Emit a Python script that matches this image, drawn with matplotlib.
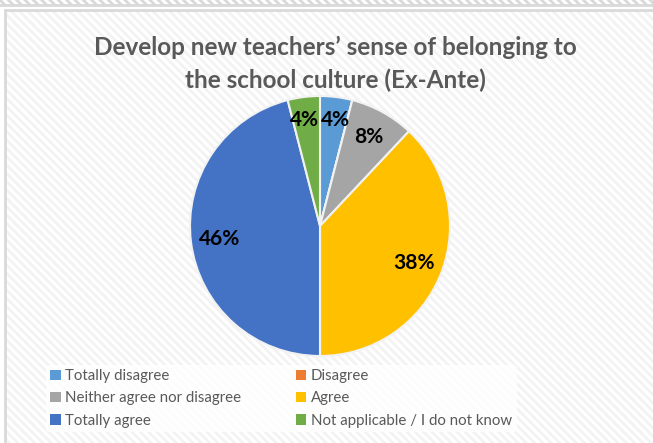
import matplotlib
matplotlib.use("Agg")
import matplotlib.pyplot as plt
from matplotlib.patches import Rectangle, Patch

categories = ["Totally disagree", "Disagree", "Neither agree nor disagree",
              "Agree", "Totally agree", "Not applicable / I do not know"]
values = [4, 0, 8, 38, 46, 4]
colors = ["#5B9BD5", "#ED7D31", "#A5A5A5", "#FFC000", "#4472C4", "#70AD47"]
title = "Develop new teachers\u2019 sense of belonging to\nthe school culture (Ex-Ante)"

W, H = 653, 443
plt.rcParams['hatch.linewidth'] = 2.0
fig = plt.figure(figsize=(W / 100, H / 100), dpi=100)
fig.patch.set_facecolor("white")

# hatched chart background + frame
bg = Rectangle((5 / W, 0), 1, 1 - 10 / H, transform=fig.transFigure,
               facecolor="white", edgecolor="#f3f3f3", hatch="\\\\\\\\", lw=0, zorder=-3)
fig.patches.append(bg)
frame = Rectangle((5 / W, -0.01), 1, 1 - 10 / H + 0.01, transform=fig.transFigure,
                  facecolor="none", edgecolor="#d9d9d9", lw=2, zorder=-2)
fig.patches.append(frame)
top = Rectangle((-0.01, 1 - 5 / H), 1.02, 0.1, transform=fig.transFigure,
                facecolor="white", edgecolor="#d9d9d9", hatch="\\\\\\\\", lw=2, zorder=-2)
fig.patches.append(top)

fig.text(335 / W, 1 - 64 / H, title, ha="center", va="center", fontsize=17.5,
         fontweight="bold", color="#595959", family="Lato", linespacing=1.45)

# pie
cx, cy, r = 320, 226, 130
ax = fig.add_axes([(cx - r) / W, 1 - (cy + r) / H, 2 * r / W, 2 * r / H])
wedges, texts, autotexts = ax.pie(
    values, colors=colors, startangle=90, counterclock=False,
    autopct=lambda p: f"{p:.0f}%" if p > 0.5 else "", pctdistance=0.78,
    wedgeprops=dict(edgecolor="#f2f2f2", linewidth=1.5),
    textprops=dict(fontsize=15, fontweight="bold", color="black", family="Lato"))
# the two small 4% labels sit side by side near the top
for v, t in zip(values, autotexts):
    if 0 < v < 5:
        x, y = t.get_position()
        t.set_ha("left" if x > 0 else "right")
        t.set_position((0.01 if x > 0 else -0.01, y * 1.05))
ax.set_xlim(-1, 1)
ax.set_ylim(-1, 1)
ax.set_aspect("equal")

# legend, row-wise order
order = [0, 2, 4, 1, 3, 5]
handles = [Patch(facecolor=colors[i], edgecolor="none") for i in order]
labels = [categories[i] for i in order]
leg = fig.legend(handles, labels, ncol=2, loc="upper left",
                 bbox_to_anchor=(38 / W, 1 - 357 / H), frameon=True,
                 handlelength=0.7, handleheight=0.7, handletextpad=0.3,
                 columnspacing=3.65, labelspacing=0.55, borderpad=0.3,
                 prop=dict(family="Lato", size=10.8))
leg.get_frame().set_facecolor("white")
leg.get_frame().set_edgecolor("none")
leg.get_frame().set_alpha(0.8)
for t in leg.get_texts():
    t.set_color("#595959")

fig.savefig("out.png", dpi=100)
